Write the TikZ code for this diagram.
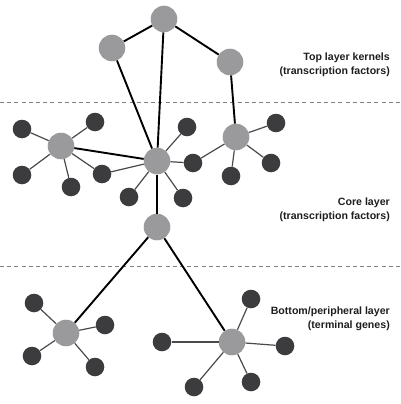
\documentclass[tikz,border=0pt]{standalone}
\usepackage{fontspec}
\setmainfont{Liberation Sans}
\definecolor{hubgray}{HTML}{9A9A9C}
\definecolor{leafdark}{HTML}{3C3C3E}
\definecolor{thinline}{HTML}{4A4A4A}
\definecolor{dashgray}{HTML}{808080}
\definecolor{txt}{HTML}{1E1E1E}
\begin{document}
\begin{tikzpicture}[x=1pt,y=-1pt,
  hub/.style={circle,fill=hubgray,draw=none,minimum size=26.6pt,inner sep=0pt},
  leaf/.style={circle,fill=leafdark,draw=none,minimum size=18.6pt,inner sep=0pt},
  strong/.style={line width=1.9pt,black},
  weak/.style={line width=1.2pt,thinline},
  layerline/.style={dashgray,line width=0.9pt,dash pattern=on 4pt off 3.2pt},
  lbl/.style={align=right,anchor=east,font=\bfseries\fontsize{10.6}{14}\selectfont,text=txt,inner sep=0pt}]
\useasboundingbox (0,0) rectangle (400,404);
% layer separators
\coordinate (d1a) at (0,102); \coordinate (d1b) at (400,102);
\coordinate (d2a) at (0,266); \coordinate (d2b) at (400,266);
\draw[layerline] (d1a) -- (d1b);
\draw[layerline] (d2a) -- (d2b);
% hubs
\node[hub] (T1) at (164,19) {};
\node[hub] (T2) at (112,48) {};
\node[hub] (T3) at (230,62) {};
\node[hub] (L) at (61,146) {};
\node[hub] (C) at (157,161) {};
\node[hub] (R) at (236,137) {};
\node[hub] (M) at (157,227) {};
\node[hub] (B1) at (66,333) {};
\node[hub] (B2) at (232,342) {};
% leaves
\node[leaf] (l1) at (22,129) {};
\node[leaf] (l2) at (95,122) {};
\node[leaf] (l3) at (22,175) {};
\node[leaf] (l4) at (71,187) {};
\node[leaf] (lc) at (102,174) {};
\node[leaf] (c1) at (187,127) {};
\node[leaf] (cr) at (193,163) {};
\node[leaf] (c2) at (129,197) {};
\node[leaf] (c3) at (183,198) {};
\node[leaf] (r1) at (276,123) {};
\node[leaf] (r2) at (271,163) {};
\node[leaf] (r3) at (231,176) {};
\node[leaf] (b11) at (34,303) {};
\node[leaf] (b12) at (105,325) {};
\node[leaf] (b13) at (32,356) {};
\node[leaf] (b14) at (95,367) {};
\node[leaf] (b21) at (251,299) {};
\node[leaf] (b22) at (285,346) {};
\node[leaf] (b23) at (251,382) {};
\node[leaf] (b24) at (194,387) {};
\node[leaf] (b25) at (162,342) {};
% strong edges
\draw[strong] (T1) -- (T2);
\draw[strong] (T1) -- (T3);
\draw[strong] (T1) -- (C);
\draw[strong] (T2) -- (C);
\draw[strong] (T3) -- (R);
\draw[strong] (L) -- (C);
\draw[strong] (C) -- (M);
\draw[strong] (M) -- (B1);
\draw[strong] (M) -- (B2);
% weak edges
\draw[weak] (L) -- (l1);
\draw[weak] (L) -- (l2);
\draw[weak] (L) -- (l3);
\draw[weak] (L) -- (l4);
\draw[weak] (L) -- (lc);
\draw[weak] (C) -- (lc);
\draw[weak] (C) -- (c1);
\draw[weak] (C) -- (cr);
\draw[weak] (C) -- (c2);
\draw[weak] (C) -- (c3);
\draw[weak] (R) -- (cr);
\draw[weak] (R) -- (r1);
\draw[weak] (R) -- (r2);
\draw[weak] (R) -- (r3);
\draw[weak] (B1) -- (b11);
\draw[weak] (B1) -- (b12);
\draw[weak] (B1) -- (b13);
\draw[weak] (B1) -- (b14);
\draw[weak] (B2) -- (b21);
\draw[weak] (B2) -- (b22);
\draw[weak] (B2) -- (b23);
\draw[weak] (B2) -- (b24);
\draw[weak] (B2) -- (b25);
% labels
\node[lbl] (topl) at (390,65) {Top layer kernels\\(transcription factors)};
\node[lbl] (corel) at (390,210) {Core layer\\(transcription factors)};
\node[lbl] (botl) at (390,319) {Bottom/peripheral layer\\(terminal genes)};
\end{tikzpicture}
\end{document}
